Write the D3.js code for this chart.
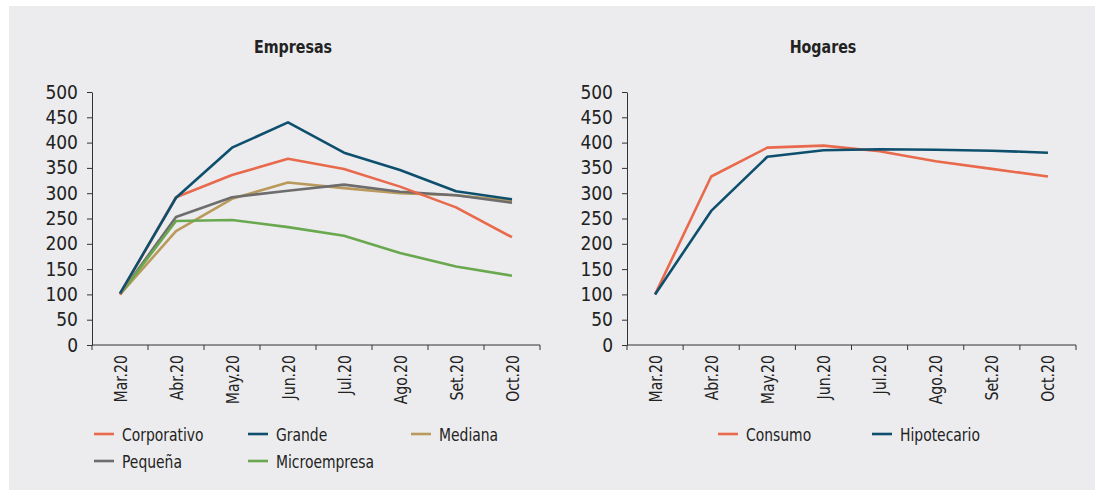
<!DOCTYPE html>
<html>
<head>
<meta charset="utf-8">
<script src="https://cdn.jsdelivr.net/npm/d3@7"></script>
<style>
  html, body { margin: 0; padding: 0; background: #ffffff; }
  svg { display: block; }
  text { font-family: "Liberation Sans Narrow", "DejaVu Sans Condensed", "Roboto", sans-serif; fill: #222; }
</style>
</head>
<body>
<svg id="chart" width="1095" height="490"></svg>
<script>
// Months shared by both panels
const months = ["Mar.20", "Abr.20", "May.20", "Jun.20", "Jul.20", "Ago.20", "Set.20", "Oct.20"];
const yTicks = [0, 50, 100, 150, 200, 250, 300, 350, 400, 450, 500];

// Empresas (index, Mar.20 = 100)
const corporativo = [100, 292, 336, 368, 348, 313, 272, 213];
const grande      = [102, 291, 390, 440, 380, 346, 304, 288];
const mediana     = [100, 225, 289, 321, 310, 300, 296, 285];
const pequena     = [100, 253, 292, 305, 317, 303, 296, 281];
const microempresa= [100, 245, 247, 233, 216, 182, 155, 137];

// Hogares
const consumo     = [100, 333, 390, 394, 383, 363, 348, 333];
const hipotecario = [100, 265, 372, 385, 387, 386, 384, 380];

const colors = {
  orange: "#e8694c",
  blue: "#0e4f6e",
  tan: "#b99a5c",
  gray: "#6d6d6d",
  green: "#6aa84f"
};

const svg = d3.select("#chart");

// panel background
svg.append("rect").attr("x", 9).attr("y", 6).attr("width", 1086).attr("height", 484).attr("fill", "#ececee");

function panel(opts) {
  const g = svg.append("g");
  const x = d3.scaleBand().domain(months).range([opts.left, opts.right]);
  const y = d3.scaleLinear().domain([0, 500]).range([345, 92]);

  g.append("text")
    .attr("transform", `translate(${opts.titleX},53) scale(0.88,1)`)
    .attr("text-anchor", "middle")
    .style("font-weight", "bold").style("font-size", "18px")
    .text(opts.title);

  // y axis
  const yAxis = g.append("g")
    .attr("transform", `translate(${opts.left},0)`)
    .call(d3.axisLeft(y).tickValues(yTicks).tickSize(5).tickPadding(9).tickSizeOuter(0));
  yAxis.select(".domain").attr("stroke", "#333").attr("stroke-width", 1);
  yAxis.selectAll(".tick line").attr("stroke", "#333");
  yAxis.selectAll(".tick text").style("font-size", "19px").attr("fill", "#222").attr("font-family", null);

  // x axis: ticks on category boundaries
  const xAxis = g.append("g").attr("transform", "translate(0,345)");
  xAxis.append("line")
    .attr("x1", opts.left).attr("x2", opts.right)
    .attr("stroke", "#333").attr("stroke-width", 1.2);
  const bounds = months.map(m => x(m)).concat([opts.right]);
  xAxis.selectAll("line.tk").data(bounds).join("line").attr("class", "tk")
    .attr("x1", d => d).attr("x2", d => d).attr("y1", 0).attr("y2", 5)
    .attr("stroke", "#333");
  xAxis.selectAll("text.lbl").data(months).join("text").attr("class", "lbl")
    .attr("transform", d => `translate(${x(d) + x.bandwidth() / 2 + 6.5},10) rotate(-90) scale(0.87,1)`)
    .attr("text-anchor", "end")
    .style("font-size", "18px")
    .text(d => d);

  const line = d3.line()
    .x((d, i) => x(months[i]) + x.bandwidth() / 2)
    .y(d => y(d));

  opts.series.forEach(s => {
    g.append("path").datum(s.values)
      .attr("d", line)
      .attr("fill", "none")
      .attr("stroke", s.color)
      .attr("stroke-width", 2.6)
      .attr("stroke-linejoin", "round");
  });

  // legend
  const lg = g.append("g");
  opts.series.forEach(s => {
    const item = lg.append("g").attr("transform", `translate(${s.lx},${s.ly})`);
    item.append("line").attr("x1", 0).attr("x2", 20).attr("y1", 0).attr("y2", 0)
      .attr("stroke", s.color).attr("stroke-width", 2.6);
    item.append("text").attr("transform", "translate(28,6.5) scale(0.86,1)")
      .style("font-size", "18px").text(s.name);
  });
}

panel({
  title: "Empresas", titleX: 293, left: 92, right: 540,
  series: [
    { name: "Mediana", values: mediana, color: colors.tan, lx: 411, ly: 434 },
    { name: "Pequeña", values: pequena, color: colors.gray, lx: 94, ly: 461 },
    { name: "Microempresa", values: microempresa, color: colors.green, lx: 248, ly: 461 },
    { name: "Corporativo", values: corporativo, color: colors.orange, lx: 94, ly: 434 },
    { name: "Grande", values: grande, color: colors.blue, lx: 248, ly: 434 }
  ]
});

panel({
  title: "Hogares", titleX: 823, left: 627, right: 1076,
  series: [
    { name: "Consumo", values: consumo, color: colors.orange, lx: 718, ly: 434 },
    { name: "Hipotecario", values: hipotecario, color: colors.blue, lx: 872, ly: 434 }
  ]
});
</script>
</body>
</html>
